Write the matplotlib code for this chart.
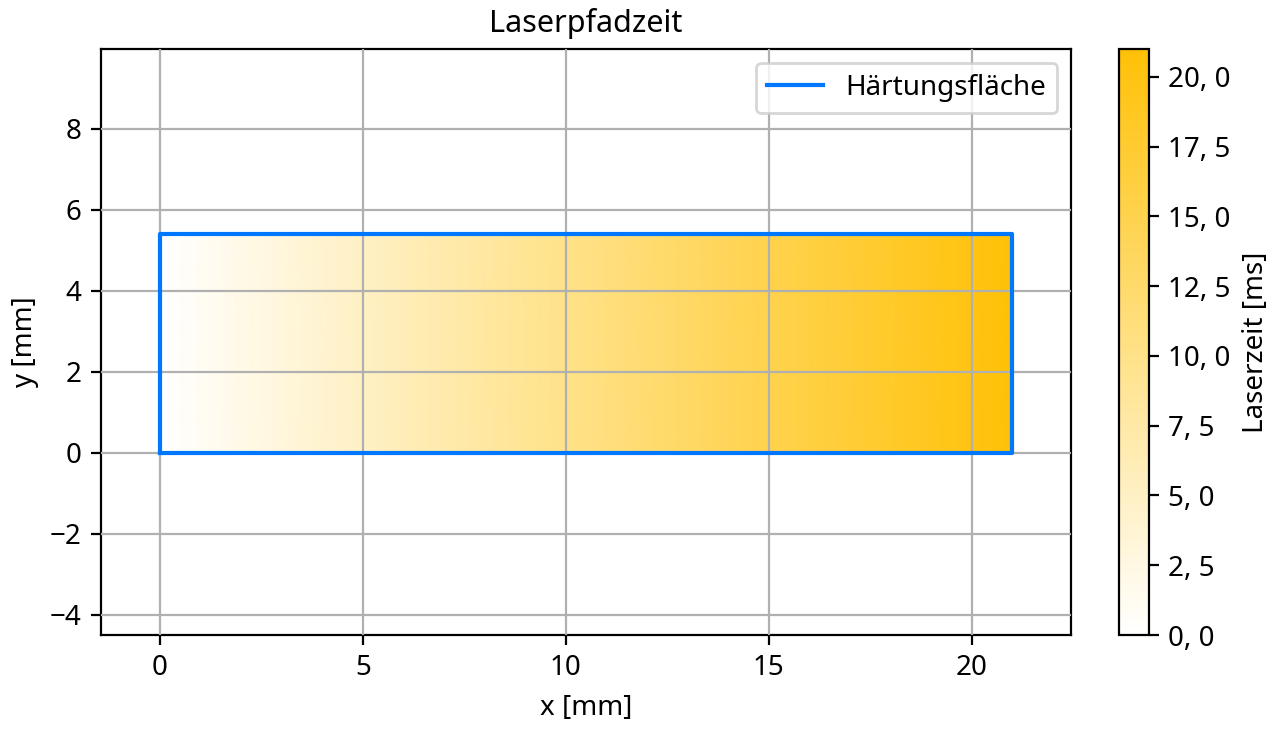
import numpy as np
import matplotlib.pyplot as plt
from matplotlib.colors import LinearSegmentedColormap
from matplotlib.ticker import FuncFormatter

plt.rcParams['font.family'] = ['Noto Sans', 'DejaVu Sans']
plt.rcParams['font.size'] = 10

# hardening area outline (mm)
flaeche_x = [0, 21, 21, 0, 0]
flaeche_y = [0, 0, 5.4, 5.4, 0]

# laser path: x positions along the track and the time the laser reaches them
pfad_x = np.linspace(0, 21, 211)
pfad_t = pfad_x * 1.0  # ms, 1 mm/ms
pfad_y = [0, 5.4]

cmap = LinearSegmentedColormap.from_list('laser', ['#ffffff', '#ffc107'])

fig = plt.figure(figsize=(6.4, 3.645), dpi=200)
ax = fig.add_axes([101 / 1280, 1 - 635 / 729, 970 / 1280, 586 / 729])
cax = fig.add_axes([1119 / 1280, 1 - 635 / 729, 30 / 1280, 586 / 729])

zeit = np.tile(pfad_t, (2, 1))
mesh = ax.pcolormesh(pfad_x, pfad_y, zeit, cmap=cmap, vmin=0, vmax=21,
                     shading='gouraud', zorder=1)
ax.plot(flaeche_x, flaeche_y, color='#0077ff', lw=1.5, label='Härtungsfläche', zorder=3)

ax.set_xlim(-1.45, 22.45)
ax.set_ylim(-4.5, 9.97)
ax.set_xticks([0, 5, 10, 15, 20])
ax.set_yticks([-4, -2, 0, 2, 4, 6, 8])
ax.grid(True, color='#b0b0b0', lw=0.8, zorder=2)
ax.set_axisbelow(False)
for l in ax.get_xgridlines() + ax.get_ygridlines():
    l.set_zorder(2)
ax.yaxis.set_major_formatter(FuncFormatter(lambda v, p: f'{v:.0f}'.replace('-', '\u2212')))
ax.set_xlabel('x [mm]')
ax.set_ylabel('y [mm]')
ax.set_title('Laserpfadzeit', fontsize=11)
ax.legend(loc='upper right')

cb = fig.colorbar(mesh, cax=cax)
cb.set_ticks([0, 2.5, 5, 7.5, 10, 12.5, 15, 17.5, 20])
cb.ax.yaxis.set_major_formatter(FuncFormatter(lambda v, p: f'{v:.1f}'.replace('.', ', ')))
cb.set_label('Laserzeit [ms]')

fig.savefig('out.png', dpi=200)
